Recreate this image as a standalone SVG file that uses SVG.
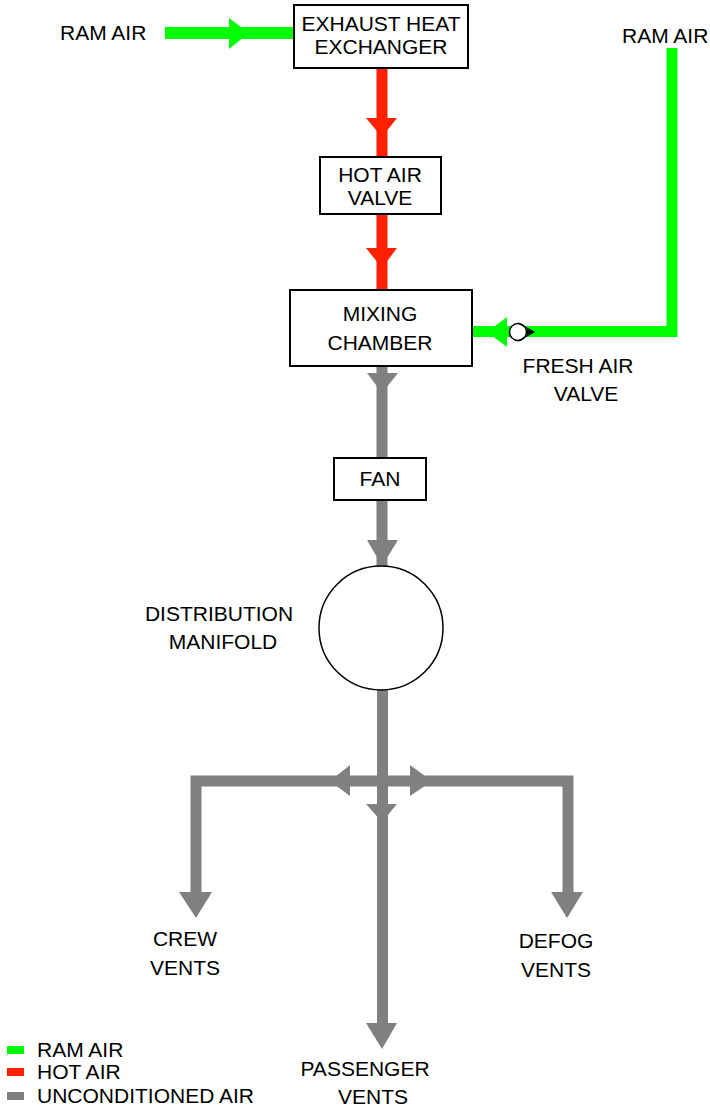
<svg xmlns="http://www.w3.org/2000/svg" width="710" height="1109" viewBox="0 0 710 1109">
<style>
text{font-family:"Liberation Sans",Arial,sans-serif;font-size:21px;fill:#000}
.c{text-anchor:middle}
.box{fill:#fff;stroke:#000;stroke-width:2}
.g{stroke:#00ff00;stroke-width:11;fill:none}
.r{stroke:#ff2000;stroke-width:11;fill:none}
.u{stroke:#808080;stroke-width:11;fill:none}
.ga{fill:#00ff00}
.ra{fill:#ff2000}
.ua{fill:#808080}
</style>
<rect width="710" height="1109" fill="#fff"/>
<g id="connectors">
  <line class="g" x1="165" y1="33" x2="294" y2="33" style="stroke-width:12"/>
  <polygon class="ga" points="229,18 249,33 229,49"/>
  <polyline class="g" points="672,48 672,331.5 472,331.5"/>
  <polygon class="ga" points="507,317 487,332 507,347"/>
  <line class="r" x1="382" y1="68" x2="382" y2="157"/>
  <polygon class="ra" points="366,118 397,118 382,137"/>
  <line class="r" x1="382" y1="214" x2="382" y2="290"/>
  <polygon class="ra" points="366,248 397,248 382,268"/>
  <line class="u" x1="382" y1="366" x2="382" y2="458"/>
  <polygon class="ua" points="367,373 398,373 382,393"/>
  <line class="u" x1="382" y1="500" x2="382" y2="567"/>
  <polygon class="ua" points="367,540 398,540 382,566"/>
  <line class="u" x1="382.5" y1="690" x2="382.5" y2="1025"/>
  <polygon class="ua" points="366,1023 397,1023 382,1049"/>
  <polygon class="ua" points="366,804 397,804 382,822"/>
  <polyline class="u" points="196,893 196,781 568,781 568,893"/>
  <polygon class="ua" points="179,892 212,892 196,918"/>
  <polygon class="ua" points="551,892 583,892 567,918"/>
  <polygon class="ua" points="350,765 330,781 350,796"/>
  <polygon class="ua" points="410,765 432,781 410,796"/>
</g>
<g id="exhaust-heat-exchanger">
  <rect class="box" x="294" y="5" width="174" height="63"/>
  <text class="c" x="381" y="31">EXHAUST HEAT</text>
  <text class="c" x="381" y="54">EXCHANGER</text>
</g>
<g id="hot-air-valve">
  <rect class="box" x="320" y="157" width="121" height="57"/>
  <text class="c" x="380" y="182">HOT AIR</text>
  <text class="c" x="380" y="205">VALVE</text>
</g>
<g id="mixing-chamber">
  <rect class="box" x="290" y="290" width="182" height="76"/>
  <text class="c" x="380" y="321">MIXING</text>
  <text class="c" x="380" y="350">CHAMBER</text>
</g>
<g id="fresh-air-valve">
  <circle cx="518" cy="332" r="8.5" fill="#fff" stroke="#000" stroke-width="1.5"/>
  <polyline points="518,323 534,332 518,341" fill="none" stroke="#000" stroke-width="1.2"/>
  <polygon points="527,329 534,332 527,335" fill="#000"/>
  <text class="c" x="578" y="373">FRESH AIR</text>
  <text class="c" x="586" y="401">VALVE</text>
</g>
<g id="fan">
  <rect class="box" x="334" y="458" width="92" height="42"/>
  <text class="c" x="380" y="486">FAN</text>
</g>
<g id="distribution-manifold">
  <circle cx="381" cy="628" r="62" fill="#fff" stroke="#000" stroke-width="1.5"/>
  <text class="c" x="219" y="621">DISTRIBUTION</text>
  <text class="c" x="223" y="649">MANIFOLD</text>
</g>
<g id="ram-air-left">
  <text x="60" y="40">RAM AIR</text>
</g>
<g id="ram-air-right">
  <text x="622" y="43">RAM AIR</text>
</g>
<g id="crew-vents">
  <text class="c" x="185" y="946">CREW</text>
  <text class="c" x="185" y="975">VENTS</text>
</g>
<g id="defog-vents">
  <text class="c" x="556" y="948">DEFOG</text>
  <text class="c" x="556" y="977">VENTS</text>
</g>
<g id="passenger-vents">
  <text class="c" x="365" y="1076">PASSENGER</text>
  <text class="c" x="373" y="1104">VENTS</text>
</g>
<g id="legend">
  <rect x="7" y="1046" width="17" height="8" fill="#00ff00"/>
  <rect x="7" y="1068" width="17" height="8" fill="#ff2000"/>
  <rect x="7" y="1092" width="17" height="8" fill="#808080"/>
  <text x="37" y="1057">RAM AIR</text>
  <text x="37" y="1079">HOT AIR</text>
  <text x="37" y="1103">UNCONDITIONED AIR</text>
</g>
</svg>
